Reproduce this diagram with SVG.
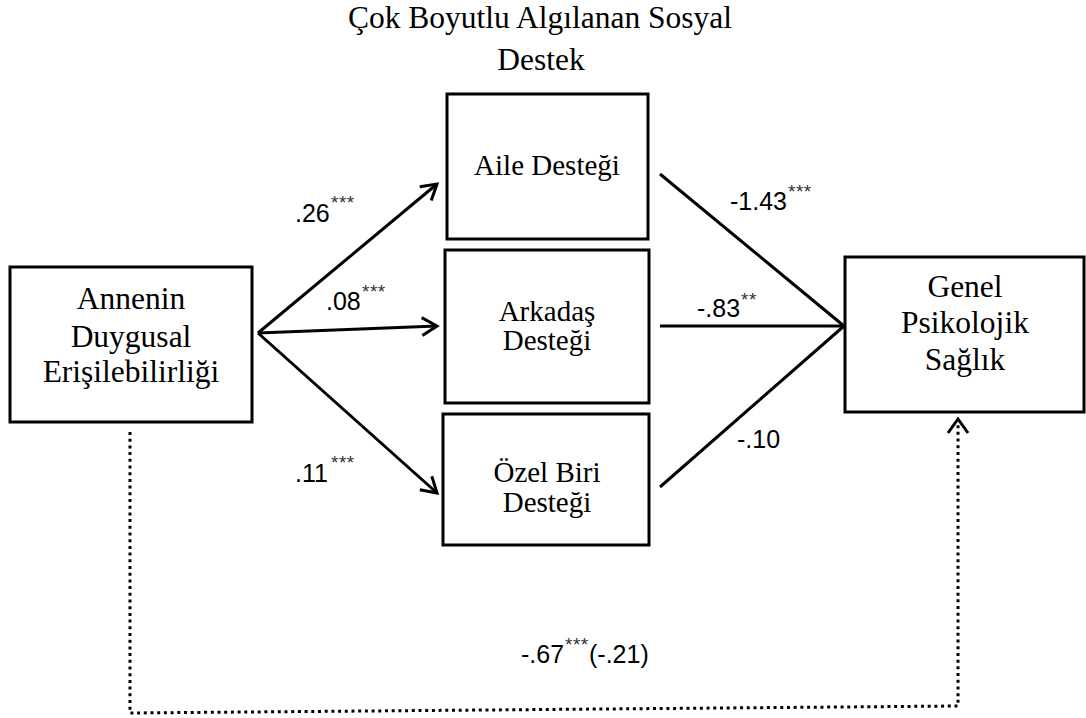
<svg xmlns="http://www.w3.org/2000/svg" width="1086" height="718" viewBox="0 0 1086 718">
<defs>
<style>
.box{fill:#fff;stroke:#000;stroke-width:3}
.serif{font-family:"Liberation Serif","Times New Roman",serif;fill:#000;text-anchor:middle}
.lbl{font-family:"Liberation Sans",Arial,sans-serif;font-size:25px;fill:#000}
.ast{font-family:"Liberation Sans",Arial,sans-serif;font-size:19px;fill:#333;letter-spacing:0.5px}
.conn{stroke:#000;stroke-width:3;fill:none}
.dot{stroke:#000;stroke-width:3;fill:none;stroke-dasharray:3 3.7}
</style>
<marker id="arr" markerUnits="userSpaceOnUse" markerWidth="24" markerHeight="24" refX="18" refY="10" orient="auto" viewBox="0 0 24 20">
<path d="M3,1 L18,10 L3,19" fill="none" stroke="#000" stroke-width="3"/>
</marker>
</defs>
<rect width="1086" height="718" fill="#fff"/>

<g id="title">
<text class="serif" x="540" y="28" font-size="31.5">Çok Boyutlu Algılanan Sosyal</text>
<text class="serif" x="541" y="70" font-size="31.5">Destek</text>
</g>

<g id="connectors">
<line class="conn" x1="258" y1="333" x2="437" y2="184" marker-end="url(#arr)"/>
<line class="conn" x1="258" y1="333" x2="437" y2="326" marker-end="url(#arr)"/>
<line class="conn" x1="258" y1="333" x2="437" y2="493" marker-end="url(#arr)"/>
<line class="conn" x1="660" y1="174" x2="844" y2="326"/>
<line class="conn" x1="660" y1="326" x2="844" y2="326"/>
<line class="conn" x1="660" y1="487" x2="844" y2="326"/>
<path class="dot" d="M130,432 L130,713 L958,706 L958,422"/>
<path d="M948,433 L958,419 L968,433" fill="none" stroke="#000" stroke-width="3"/>
</g>

<g id="node-annenin">
<rect class="box" x="10" y="267" width="242" height="155"/>
<text class="serif" x="131" y="309" font-size="31.5">Annenin</text>
<text class="serif" x="131" y="347" font-size="31.5">Duygusal</text>
<text class="serif" x="131" y="382" font-size="31.5">Erişilebilirliği</text>
</g>

<g id="node-aile">
<rect class="box" x="447" y="94" width="201" height="145"/>
<text class="serif" x="547" y="175" font-size="29">Aile Desteği</text>
</g>

<g id="node-arkadas">
<rect class="box" x="445" y="250" width="204" height="153"/>
<text class="serif" x="547" y="321" font-size="29">Arkadaş</text>
<text class="serif" x="547" y="350" font-size="29">Desteği</text>
</g>

<g id="node-ozel">
<rect class="box" x="443" y="414" width="206" height="131"/>
<text class="serif" x="547" y="482" font-size="29">Özel Biri</text>
<text class="serif" x="547" y="512" font-size="29">Desteği</text>
</g>

<g id="node-genel">
<rect class="box" x="845" y="257" width="239" height="155"/>
<text class="serif" x="965" y="297" font-size="31.5">Genel</text>
<text class="serif" x="965" y="333" font-size="31.5">Psikolojik</text>
<text class="serif" x="965" y="370" font-size="31.5">Sağlık</text>
</g>

<g id="labels">
<text class="lbl" x="295" y="222">.26</text><text class="ast" x="331" y="209">***</text>
<text class="lbl" x="326" y="310">.08</text><text class="ast" x="362" y="298">***</text>
<text class="lbl" x="295" y="482">.11</text><text class="ast" x="331" y="469">***</text>
<text class="lbl" x="730" y="210">-1.43</text><text class="ast" x="788" y="198">***</text>
<text class="lbl" x="697" y="317">-.83</text><text class="ast" x="741" y="306">**</text>
<text class="lbl" x="737" y="448">-.10</text>
<text class="lbl" x="521" y="663">-.67</text><text class="ast" x="565" y="651">***</text><text class="lbl" x="589" y="663">(-.21)</text>
</g>
</svg>
